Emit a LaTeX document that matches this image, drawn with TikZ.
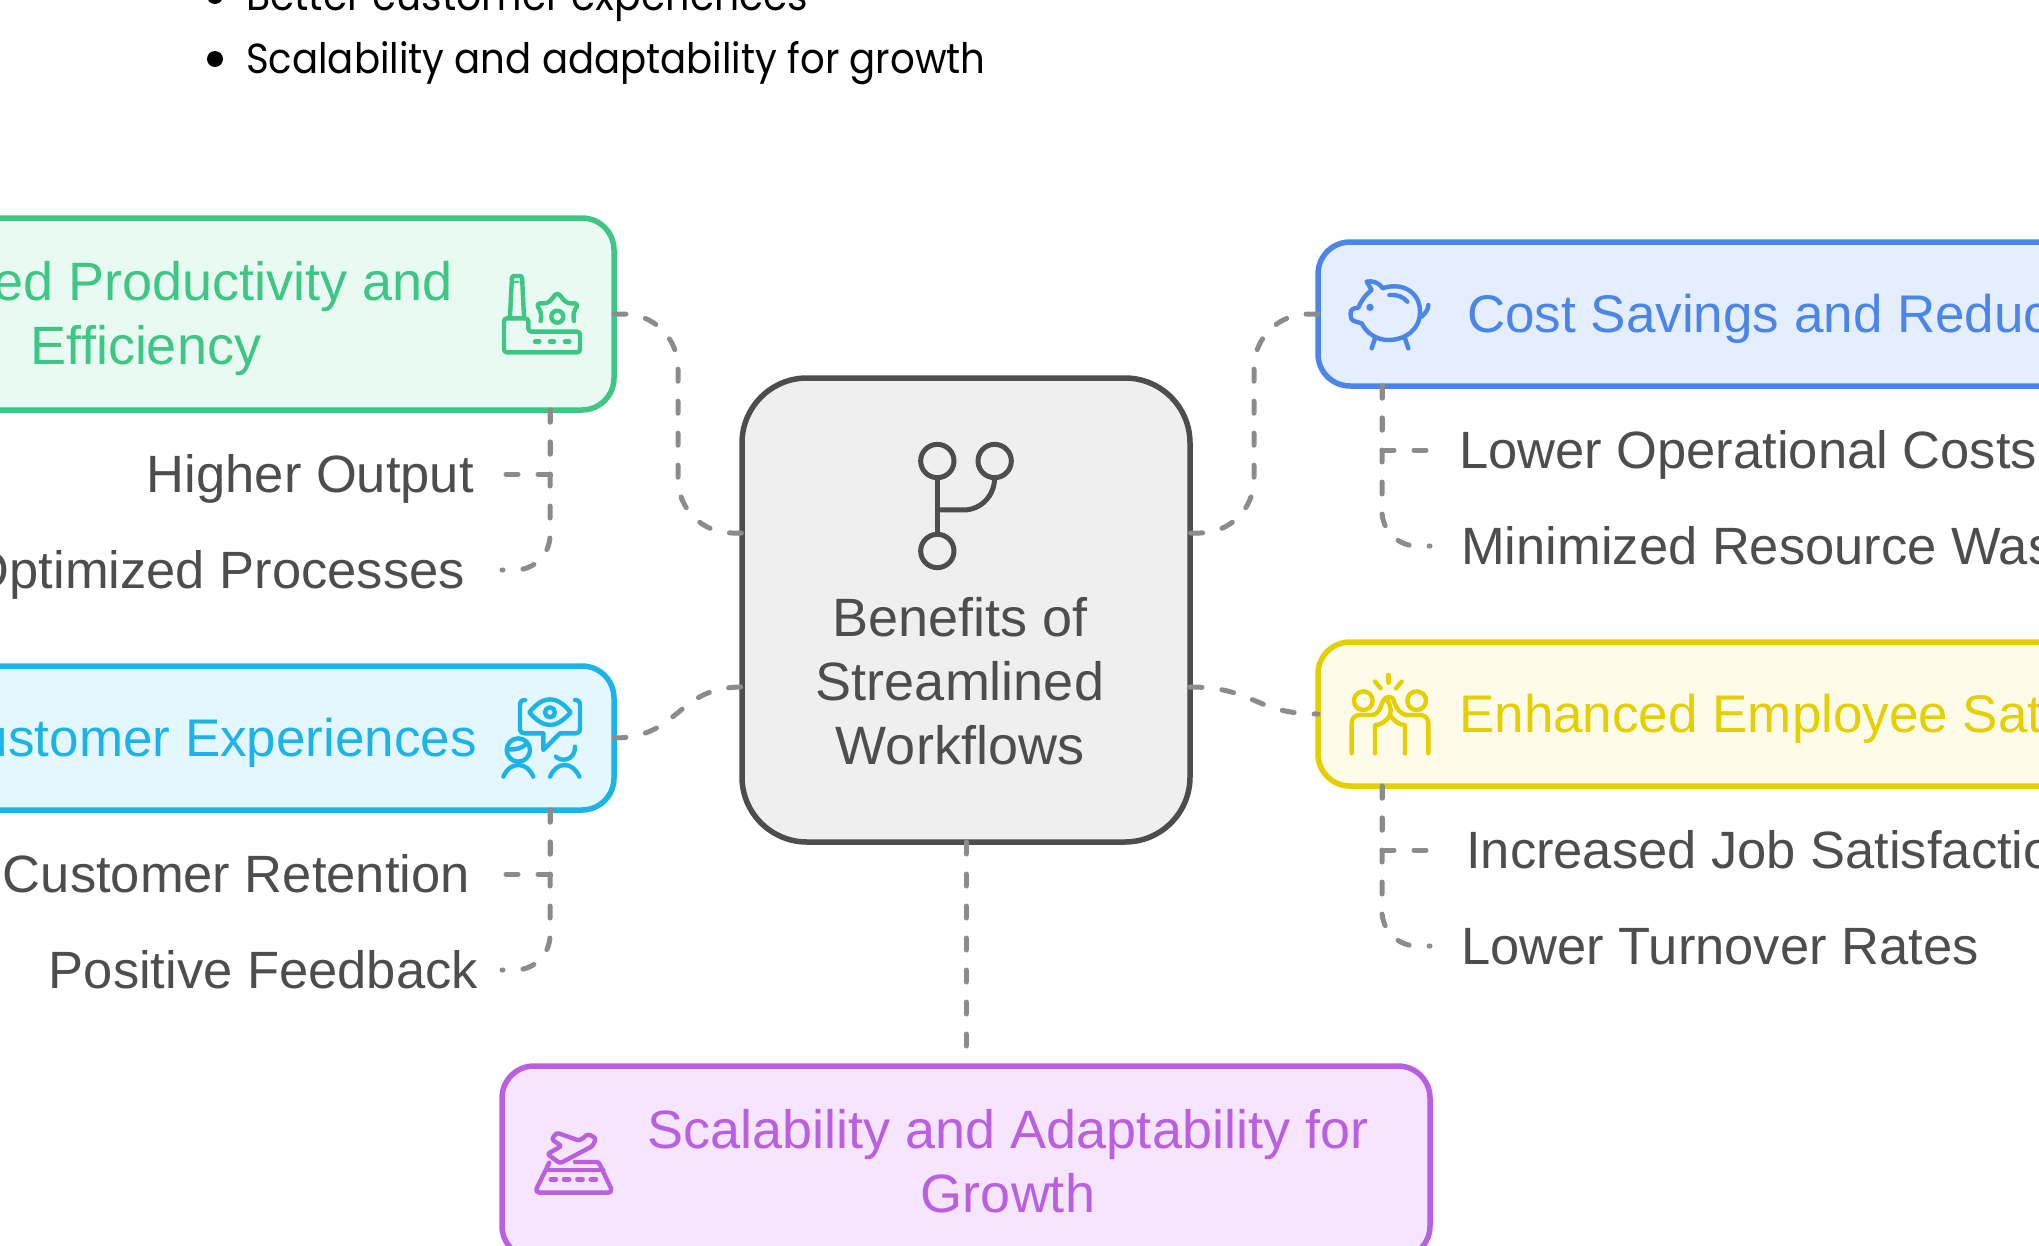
\documentclass[tikz,border=0pt]{standalone}
\usepackage{fontspec}
\setmainfont{Liberation Sans}
\newfontfamily\notefont[FakeStretch=0.92]{Poppins}
\usetikzlibrary{positioning}

\definecolor{inkgray}{HTML}{4D4D4D}
\definecolor{linkgray}{HTML}{8C8C8C}
\definecolor{hubfill}{HTML}{EFEFEF}
\definecolor{prodline}{HTML}{3DC684}
\definecolor{prodfill}{HTML}{E8FAF1}
\definecolor{custline}{HTML}{1CB4E6}
\definecolor{custfill}{HTML}{E4F7FF}
\definecolor{costline}{HTML}{4A86E8}
\definecolor{costfill}{HTML}{E4EEFF}
\definecolor{empline}{HTML}{E6CF00}
\definecolor{empfill}{HTML}{FEFCE8}
\definecolor{scaleline}{HTML}{B95FE0}
\definecolor{scalefill}{HTML}{F6E5FE}

\tikzset{
    card/.style={draw,line width=5.5pt,rounded corners=32pt,inner sep=0pt,outer sep=0pt},
    link/.style={draw=linkgray,line width=5pt,line cap=round,dash pattern=on 12pt off 20pt},
    leaf/.style={inner sep=0pt,text=inkgray,font=\fontsize{52.5}{64}\selectfont},
    title/.style={inner sep=0pt,align=center,font=\fontsize{54}{64}\selectfont},
    longtitle/.style={inner sep=0pt,font=\fontsize{53}{64}\selectfont},
    note/.style={inner sep=0pt,text=black,font=\notefont\fontsize{42}{50}\selectfont},
    dot/.style={circle,fill=black,inner sep=0pt,minimum size=16pt},
    glyph/.style={line width=4.4pt,line cap=round,line join=round,x=1pt,y=-1pt,scale=0.3333},
}

\begin{document}
\begin{tikzpicture}[x=1pt,y=-1pt]
    \useasboundingbox (0,0) rectangle (2039,1245);
    \clip (0,0) rectangle (2039,1245);

    % notes on top
    \node[dot] (dotbetter) at (215,-4) {};
    \node[dot] (dotscale) at (215,59) {};
    \node[note,anchor=base west,font=\notefont\fontsize{42.7}{50}\selectfont] (notebetter) at (246,10) {Better customer experiences};
    \node[note,anchor=base west] (notescale) at (246,73) {Scalability and adaptability for growth};

    % boxes
    \node[card,draw=inkgray,fill=hubfill,rounded corners=65pt,anchor=north west,minimum width=448pt,minimum height=464pt] (hub) at (742,378) {};
    \node[card,draw=prodline,fill=prodfill,anchor=north east,minimum width=820pt,minimum height=192pt] (prodbox) at (614,218) {};
    \node[card,draw=custline,fill=custfill,anchor=north east,minimum width=820pt,minimum height=144pt] (custbox) at (614,666) {};
    \node[card,draw=costline,fill=costfill,anchor=north west,minimum width=900pt,minimum height=144pt] (costbox) at (1318,242) {};
    \node[card,draw=empline,fill=empfill,anchor=north west,minimum width=900pt,minimum height=144pt] (empbox) at (1318,642) {};
    \node[card,draw=scaleline,fill=scalefill,anchor=north west,minimum width=928pt,minimum height=192pt] (scalebox) at (502,1066) {};

    % titles
    \node[title,text=inkgray,anchor=base] (hubname) at (960,764) {Benefits of\\Streamlined\\Workflows};
    \node[title,text=prodline,anchor=base east] (prodname) at (453,300) {Increased Productivity and};
    \node[title,text=prodline,anchor=base] (prodname2) at (146,364) {Efficiency};
    \node[longtitle,text=custline,anchor=base east] (custname) at (477,756) {Better Customer Experiences};
    \node[longtitle,text=costline,anchor=base west] (costname) at (1467,332) {Cost Savings and Reduced Waste};
    \node[longtitle,text=empline,anchor=base west] (empname) at (1459,732) {Enhanced Employee Satisfaction};
    \node[title,text=scaleline,anchor=base] (scalename) at (1008,1148) {Scalability and Adaptability for};
    \node[title,text=scaleline,anchor=base] (scalename2) at (1008,1212) {Growth};

    % leaves
    \node[leaf,anchor=base east] (output) at (474,492) {Higher Output};
    \node[leaf,anchor=base east] (process) at (465,588) {Optimized Processes};
    \node[leaf,anchor=base east] (retain) at (470,892) {Customer Retention};
    \node[leaf,anchor=base east] (feedback) at (478,988) {Positive Feedback};
    \node[leaf,anchor=base west] (opcost) at (1459,468) {Lower Operational Costs};
    \node[leaf,anchor=base west] (waste) at (1461,564) {Minimized Resource Waste};
    \node[leaf,anchor=base west] (jobsat) at (1466,868) {Increased Job Satisfaction};
    \node[leaf,anchor=base west] (turnover) at (1461,964) {Lower Turnover Rates};

    % free ends of the connectors
    \coordinate (outputend) at (502,474);
    \coordinate (processend) at (502,570);
    \coordinate (retainend) at (502,874);
    \coordinate (feedbackend) at (502,970);
    \coordinate (opcostend) at (1430,450);
    \coordinate (wasteend) at (1430,546);
    \coordinate (jobsatend) at (1430,850);
    \coordinate (turnoverend) at (1430,946);
    \coordinate (scaleend) at (966,1050);

    % hub to boxes
    \draw[link,rounded corners=54pt] (prodbox.east) -- (678,314) -- (678,533) -- ([yshift=77pt]hub.west);
    \draw[link,rounded corners=54pt] (costbox.west) -- (1254,314) -- (1254,533) -- ([yshift=77pt]hub.east);
    \draw[link] (custbox.east) .. controls (680,738) and (676,687) .. ([yshift=-77pt]hub.west);
    \draw[link] ([yshift=-77pt]hub.east) .. controls (1255,687) and (1254,714) .. (empbox.west);
    \draw[link] (966,842) -- (scaleend);

    % boxes to leaves
    \draw[link] (550,410) -- (550,474) -- (outputend);
    \draw[link,rounded corners=35pt] (550,410) -- (550,570) -- (processend);
    \draw[link] (550,810) -- (550,874) -- (retainend);
    \draw[link,rounded corners=35pt] (550,810) -- (550,970) -- (feedbackend);
    \draw[link] (1382,386) -- (1382,450) -- (opcostend);
    \draw[link,rounded corners=35pt] (1382,386) -- (1382,546) -- (wasteend);
    \draw[link] (1382,786) -- (1382,850) -- (jobsatend);
    \draw[link,rounded corners=35pt] (1382,786) -- (1382,946) -- (turnoverend);

    % branch icon
    \begin{scope}[shift={(900,430)},glyph,draw=inkgray,line width=5pt]
        \draw (112,93) circle (50);
        \draw (284,93) circle (50);
        \draw (112,363) circle (50);
        \draw (112,143) -- (112,313);
        \draw (112,240) -- (190,240) .. controls (245,240) and (284,195) .. (284,143);
    \end{scope}

    % factory icon
    \begin{scope}[shift={(480,250)},glyph,draw=prodline]
        \draw[rounded corners=2pt] (90,200) -- (96,78) -- (126,78) -- (132,200);
        \draw[line width=2pt] (104,95) -- (116,95);
        \draw[rounded corners=3pt] (72,205) -- (145,205) -- (145,245) -- (300,245) -- (300,307) -- (72,307) -- cycle;
        \draw (165,275) -- (178,275) (210,275) -- (222,275) (255,275) -- (268,275);
        \draw (232,200) circle (18);
        \draw[rounded corners=4pt] (182,213) -- (185,190) -- (168,160) -- (205,160) -- (232,126) -- (259,160) -- (296,160) -- (279,190) -- (282,213);
    \end{scope}

    % eye icon
    \begin{scope}[shift={(480,670)},glyph,draw=custline]
        \draw (135,90) .. controls (125,90) and (120,95) .. (120,105) -- (120,175) .. controls (120,185) and (125,190) .. (135,190) -- (190,190) -- (190,240) -- (240,190) -- (285,190) .. controls (295,190) and (300,185) .. (300,175) -- (300,105) .. controls (300,95) and (295,90) .. (285,90);
        \draw (148,127) .. controls (170,100) and (190,88) .. (210,88) .. controls (230,88) and (250,100) .. (272,127) .. controls (250,152) and (230,165) .. (210,165) .. controls (190,165) and (170,152) .. (148,127) -- cycle;
        \draw (210,127) circle (15);
        \draw (115,240) circle (35);
        \draw (88,238) .. controls (105,240) and (125,235) .. (140,222);
        \draw (70,320) .. controls (80,298) and (95,285) .. (115,285) .. controls (135,285) and (150,298) .. (160,320);
        \draw (228,260) .. controls (240,275) and (285,275) .. (285,230);
        \draw (210,320) .. controls (220,298) and (235,285) .. (254,285) .. controls (273,285) and (288,298) .. (298,320);
    \end{scope}

    % piggy icon
    \begin{scope}[shift={(1330,260)},glyph,draw=costline]
        \draw (110,65) .. controls (125,62) and (145,65) .. (158,85) .. controls (215,65) and (270,95) .. (270,155) .. controls (270,210) and (225,240) .. (175,240) .. controls (140,240) and (110,220) .. (95,190) -- (78,185) .. controls (65,182) and (62,175) .. (62,165) -- (62,158) .. controls (62,148) and (70,145) .. (85,143) .. controls (92,125) and (105,105) .. (125,90) -- cycle;
        \draw (275,170) .. controls (285,160) and (295,150) .. (295,135);
        \fill[costline] (120,142) circle (11);
        \draw (178,105) .. controls (200,103) and (220,110) .. (232,125);
        \draw (135,235) -- (125,265);
        \draw (225,235) -- (235,265);
    \end{scope}

    % high five icon
    \begin{scope}[shift={(1330,660)},glyph,draw=empline]
        \draw (175,45) -- (175,68);
        \draw (135,65) -- (152,85);
        \draw (215,65) -- (198,85);
        \draw (100,122) circle (28);
        \draw (260,122) circle (28);
        \draw (65,280) -- (65,190) .. controls (65,175) and (75,165) .. (90,165) -- (125,165) .. controls (145,165) and (150,145) .. (158,125) .. controls (162,110) and (188,102) .. (192,125) .. controls (200,145) and (210,165) .. (235,165) -- (270,165) .. controls (285,165) and (295,175) .. (295,190) -- (295,280);
        \draw (168,115) .. controls (180,130) and (185,150) .. (180,165) .. controls (170,185) and (150,195) .. (135,195) -- (135,280);
        \draw (180,165) .. controls (190,180) and (205,195) .. (225,195) -- (225,280);
    \end{scope}

    % plane icon
    \begin{scope}[shift={(520,1110)},glyph,draw=scaleline]
        \draw (88,158) -- (50,235) .. controls (47,243) and (50,248) .. (58,248) -- (265,248) .. controls (273,248) and (276,243) .. (273,235) -- (240,165) .. controls (238,158) and (235,156) .. (228,156) -- (165,156);
        \draw (78,180) -- (250,180);
        \draw (92,208) -- (108,208) (132,208) -- (148,208) (172,208) -- (188,208) (212,208) -- (228,208);
        \draw[rounded corners=2.5pt] (120,160) -- (82,132) -- (125,108) -- (95,88) -- (110,68) -- (178,92) -- (205,72) -- (228,85) -- (218,108) -- cycle;
    \end{scope}
\end{tikzpicture}
\end{document}
